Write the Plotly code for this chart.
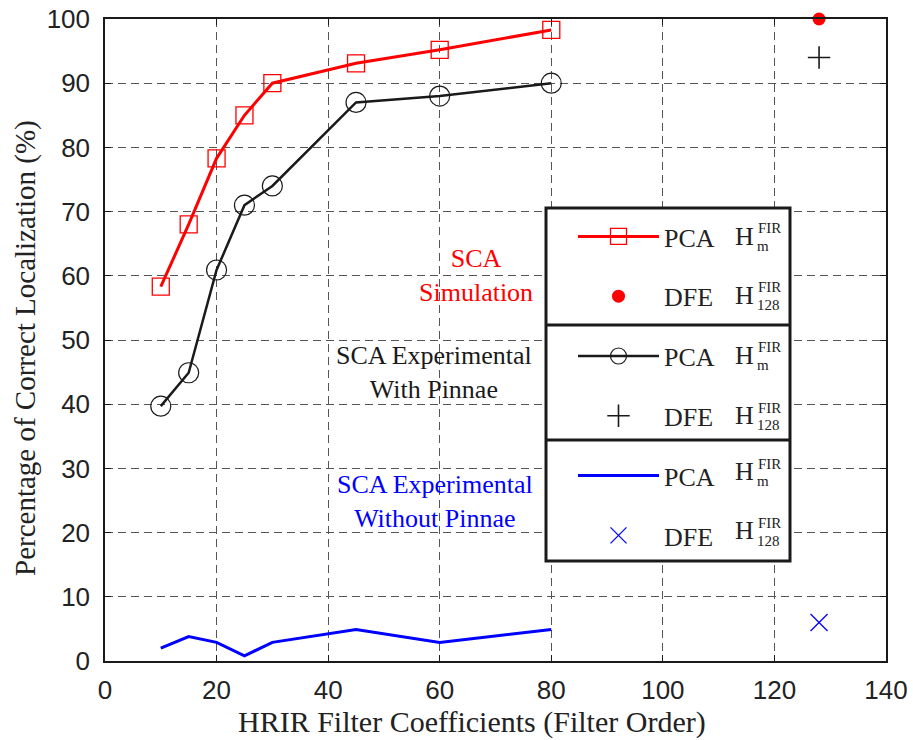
import plotly.graph_objects as go

# ---------------- data ----------------
order = [10, 15, 20, 25, 30, 45, 60, 80]
sim_pca = [58.3, 68.0, 78.3, 85.0, 90.0, 93.1, 95.2, 98.3]
exp_pca = [39.7, 44.9, 60.9, 71.0, 74.0, 87.0, 88.0, 90.0]
nop_pca = [2.0, 3.8, 2.9, 0.8, 2.9, 4.9, 2.9, 4.9]
dfe_order = [128]
sim_dfe = [100.0]
exp_dfe = [94.0]
nop_dfe = [6.0]
x_ticks = [0, 20, 40, 60, 80, 100, 120, 140]
y_ticks = [0, 10, 20, 30, 40, 50, 60, 70, 80, 90, 100]

RED = "#ff0000"
BLACK = "#1a1a1a"
BLUE = "#0000ff"
SERIF = "Liberation Serif, Times New Roman, serif"
SANS = "Liberation Sans, Arial, sans-serif"

W, H = 913, 740
ML, MR, MT, MB = 105, 27, 19, 79
PW, PH = W - ML - MR, H - MT - MB


def px(x):
    return (x - ML) / PW


def py(y):
    return (H - MB - y) / PH


fig = go.Figure()

fig.add_trace(go.Scatter(
    x=order, y=sim_pca, mode="lines+markers", name="PCA", legendgroup="g1",
    line=dict(color=RED, width=3),
    marker=dict(symbol="square-open", size=17, color=RED, line=dict(width=1.3, color=RED)),
))
fig.add_trace(go.Scatter(
    x=dfe_order, y=sim_dfe, mode="markers", name="DFE", legendgroup="g2",
    marker=dict(symbol="circle", size=13, color=RED), cliponaxis=False,
))
fig.add_trace(go.Scatter(
    x=order, y=exp_pca, mode="lines+markers", name="PCA", legendgroup="g3",
    line=dict(color=BLACK, width=2.5),
    marker=dict(symbol="circle-open", size=20, color=BLACK, line=dict(width=1.2, color=BLACK)),
))
fig.add_trace(go.Scatter(
    x=dfe_order, y=exp_dfe, mode="markers", name="DFE", legendgroup="g4",
    marker=dict(symbol="cross-thin", size=16, color=BLACK, line=dict(width=1.6, color=BLACK)),
))
fig.add_trace(go.Scatter(
    x=order, y=nop_pca, mode="lines", name="PCA", legendgroup="g5",
    line=dict(color=BLUE, width=3),
))
fig.add_trace(go.Scatter(
    x=dfe_order, y=nop_dfe, mode="markers", name="DFE", legendgroup="g6",
    marker=dict(symbol="x-thin", size=17, color=BLUE, line=dict(width=1.3, color=BLUE)),
))

# ---------------- in-plot labels ----------------
labels = [
    (66.5, 60.1, "SCA<br>Simulation", RED),
    (58.9, 44.9, "SCA Experimental<br>With Pinnae", BLACK),
    (59.1, 24.9, "SCA Experimental<br>Without Pinnae", BLUE),
]
annotations = []
for x, y, t, c in labels:
    annotations.append(dict(x=x, y=y, xref="x", yref="y", text=t, showarrow=False,
                            font=dict(family=SERIF, size=26, color=c), align="center"))

# axis titles
annotations.append(dict(x=px(472), y=py(722), xref="paper", yref="paper",
                        text="HRIR Filter Coefficients (Filter Order)", showarrow=False,
                        xanchor="center", yanchor="middle", borderpad=0,
                        font=dict(family=SERIF, size=30, color="#222")))
annotations.append(dict(x=px(25), y=py(348), xref="paper", yref="paper",
                        text="Percentage of Correct Localization (%)", showarrow=False,
                        textangle=-90, xanchor="center", yanchor="middle",
                        font=dict(family=SERIF, size=29, color="#222")))

# ---------------- legend box decoration ----------------
box_l, box_r, box_t, box_b = 546, 790, 208, 561
dividers = [325, 440]
shapes = [dict(type="rect", xref="paper", yref="paper", layer="above",
               x0=px(box_l), x1=px(box_r), y0=py(box_b), y1=py(box_t),
               fillcolor="white", line=dict(color="#1a1a1a", width=3))]
for d in dividers:
    shapes.append(dict(type="line", xref="paper", yref="paper", layer="above",
                       x0=px(box_l), x1=px(box_r), y0=py(d), y1=py(d),
                       line=dict(color="#1a1a1a", width=3)))

# H^FIR_sub labels beside legend entries
h_rows = [(236.5, "m"), (295, "128"), (355, "m"), (415.5, "128"), (471.5, "m"), (530.5, "128")]
for yc, sub in h_rows:
    annotations.append(dict(x=px(744), y=py(yc), xref="paper", yref="paper", text="H",
                            showarrow=False, xanchor="center", yanchor="middle",
                            font=dict(family=SERIF, size=26, color="#222")))
    annotations.append(dict(x=px(756), y=py(yc - 8), xref="paper", yref="paper", text="FIR",
                            showarrow=False, xanchor="left", yanchor="middle",
                            font=dict(family=SERIF, size=15, color="#222")))
    annotations.append(dict(x=px(755), y=py(yc + 10), xref="paper", yref="paper", text=sub,
                            showarrow=False, xanchor="left", yanchor="middle",
                            font=dict(family=SERIF, size=15, color="#222")))

axis_common = dict(
    showline=True, linecolor="#1a1a1a", linewidth=1.5, mirror="ticks",
    ticks="inside", ticklen=6, tickcolor="#1a1a1a", automargin=False,
    showgrid=True, gridcolor="#555", gridwidth=1, griddash="8px,5px",
    zeroline=False, tickfont=dict(family=SANS, size=26, color="#222"),
)

fig.update_layout(
    width=W, height=H,
    margin=dict(l=ML, r=MR, t=MT, b=MB, autoexpand=False),
    paper_bgcolor="white", plot_bgcolor="white",
    showlegend=True,
    legend=dict(x=px(573), y=py(213), xanchor="left", yanchor="top",
                bgcolor="rgba(0,0,0,0)", borderwidth=0, itemwidth=81,
                tracegroupgap=23, font=dict(family=SERIF, size=26, color="#222"),
                itemclick=False, itemdoubleclick=False),
    annotations=annotations,
    shapes=shapes,
    xaxis=dict(range=[0, 140], tickvals=x_ticks, ticktext=[str(v) for v in x_ticks],
               ticklabelstandoff=5, **axis_common),
    yaxis=dict(range=[0, 100], tickvals=y_ticks, ticktext=[str(v) for v in y_ticks],
               ticklabelstandoff=8, **axis_common),
)

fig.write_html("out.html")
